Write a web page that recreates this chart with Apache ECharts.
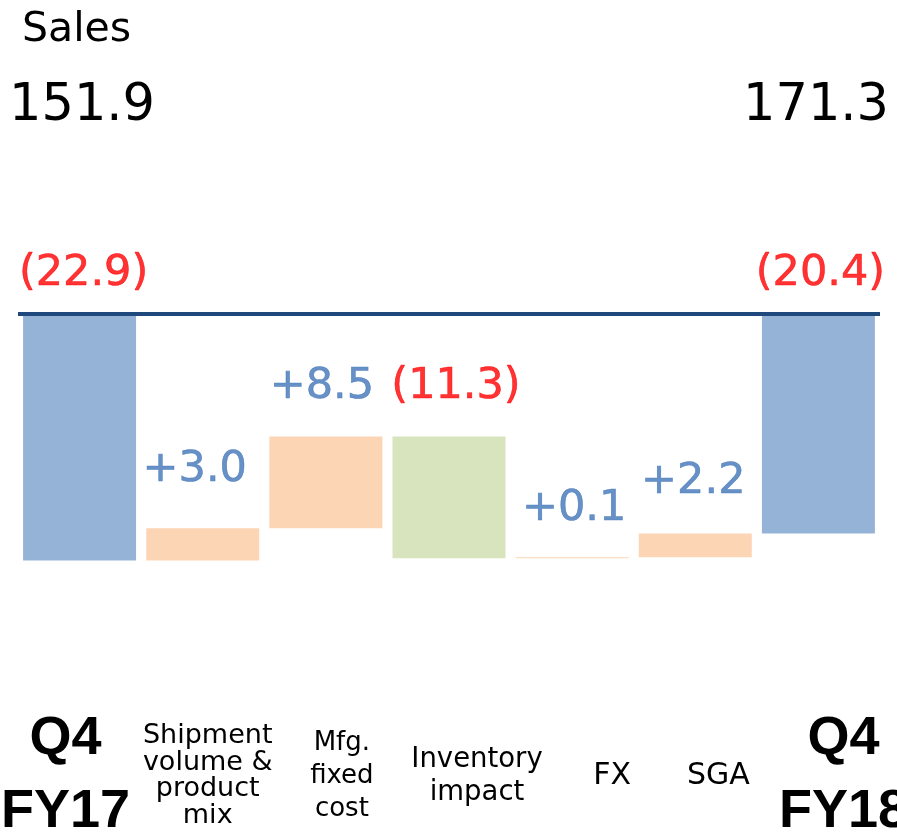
<!DOCTYPE html>
<html>
<head>
<meta charset="utf-8">
<script src="https://cdn.jsdelivr.net/npm/echarts@6/dist/echarts.min.js"></script>
<style>
  html, body { margin: 0; padding: 0; background: #fff; }
  #chart { width: 897px; height: 835px; }
</style>
</head>
<body>
<div id="chart"></div>
<script>
// data
const categories = ['Q4\nFY17', 'Shipment\nvolume &\nproduct\nmix', 'Mfg.\nfixed\ncost', 'Inventory\nimpact', 'FX', 'SGA', 'Q4\nFY18'];
const startValue = -22.9;
const changes = [3.0, 8.5, -11.3, 0.1, 2.2];
const endValue = -20.4;
const salesStart = 151.9;
const salesEnd = 171.3;

// layout tweaks (label nudges, px)
const labelShiftX = [-14, 5, 16, 28, 40, 23, 25];
const labelLineH = [73, 26.5, 33, 33, 33, 33, 73];
const labelSize = [54, 27, 26, 27.5, 30, 30, 54];
const valueDist = [17, 35, 27, 27, 25, 29, 17];
const valueShiftX = [4, -8, -4, 7, 2, -2, 2];

const BLUE_BAR = '#95B3D7', ORANGE = '#FCD5B5', GREEN = '#D7E4BD';
const TXT_BLUE = '#4176B8', TXT_RED = '#FF0000';

const r1 = v => Math.round(v * 10) / 10;
const fmt = v => v >= 0 ? '+' + v.toFixed(1) : '(' + (-v).toFixed(1) + ')';

// build waterfall spans [top, bottom]
const spans = [[0, startValue]];
const texts = [fmt(startValue)];
let run = startValue;
changes.forEach(c => {
  const from = run;
  run = r1(run + c);
  spans.push([Math.max(from, run), Math.min(from, run)]);
  texts.push(fmt(c));
});
spans.push([0, endValue]);
texts.push(fmt(endValue));

const colors = [BLUE_BAR].concat(changes.map(c => c >= 0 ? ORANGE : GREEN), [BLUE_BAR]);

const rich = {};
categories.forEach((c, i) => {
  const big = i === 0 || i === categories.length - 1;
  const dx = labelShiftX[i];
  rich['s' + i] = {
    fontFamily: big ? 'Liberation Sans' : 'DejaVu Sans',
    fontWeight: big ? 'bold' : 'normal',
    fontSize: labelSize[i],
    lineHeight: labelLineH[i],
    color: '#000',
    align: 'center',
    padding: dx >= 0 ? [0, 0, 0, 2 * dx] : [0, -2 * dx, 0, 0]
  };
});

const chart = echarts.init(document.getElementById('chart'));
chart.setOption({
  animation: false,
  title: [
    { text: 'Sales', left: 22, top: 10, padding: 0,
      textStyle: { fontFamily: 'DejaVu Sans', fontWeight: 'normal', fontSize: 41, lineHeight: 41, color: '#000' } },
    { text: salesStart.toFixed(1), left: 9, top: 81, padding: 0,
      textStyle: { fontFamily: 'DejaVu Sans', fontWeight: 'normal', fontSize: 51, lineHeight: 51, color: '#000' } },
    { text: salesEnd.toFixed(1), right: 8, top: 81, padding: 0,
      textStyle: { fontFamily: 'DejaVu Sans', fontWeight: 'normal', fontSize: 51, lineHeight: 51, color: '#000' } }
  ],
  grid: { left: 18, right: 17, top: 206, bottom: 198, outerBoundsMode: 'none' },
  xAxis: {
    type: 'category',
    data: categories,
    axisLine: { show: false },
    axisTick: { show: false },
    axisLabel: {
      interval: 0,
      margin: 139,
      verticalAlign: 'middle',
      formatter: (val, idx) => val.split('\n').map(l => '{s' + idx + '|' + l + '}').join('\n'),
      rich: rich
    }
  },
  yAxis: { type: 'value', min: -30, max: 10, show: false },
  series: [
    {
      type: 'bar', stack: 'wf', barWidth: 113, silent: true,
      itemStyle: { color: 'transparent' },
      data: spans.map(s => s[0])
    },
    {
      type: 'bar', stack: 'wf', barWidth: 113, z: 2,
      data: spans.map((s, i) => ({ value: r1(s[1] - s[0]), itemStyle: { color: colors[i] } }))
    },
    {
      type: 'scatter', z: 5, symbolSize: 1,
      itemStyle: { color: 'transparent' },
      data: spans.map((s, i) => {
        const c = texts[i].charAt(0) === '(' ? TXT_RED : TXT_BLUE;
        return {
          value: s[0],
          label: {
            show: true, position: 'top', distance: valueDist[i], offset: [valueShiftX[i], 0],
            formatter: texts[i],
            fontFamily: 'DejaVu Sans', fontSize: 43, lineHeight: 45,
            color: c, textBorderColor: c, textBorderWidth: 0.6
          }
        };
      }),
      markLine: {
        silent: true, symbol: ['none', 'none'],
        label: { show: false },
        lineStyle: { color: '#1F497D', width: 4, type: 'solid' },
        data: [{ yAxis: 0 }]
      }
    }
  ]
});
</script>
</body>
</html>
